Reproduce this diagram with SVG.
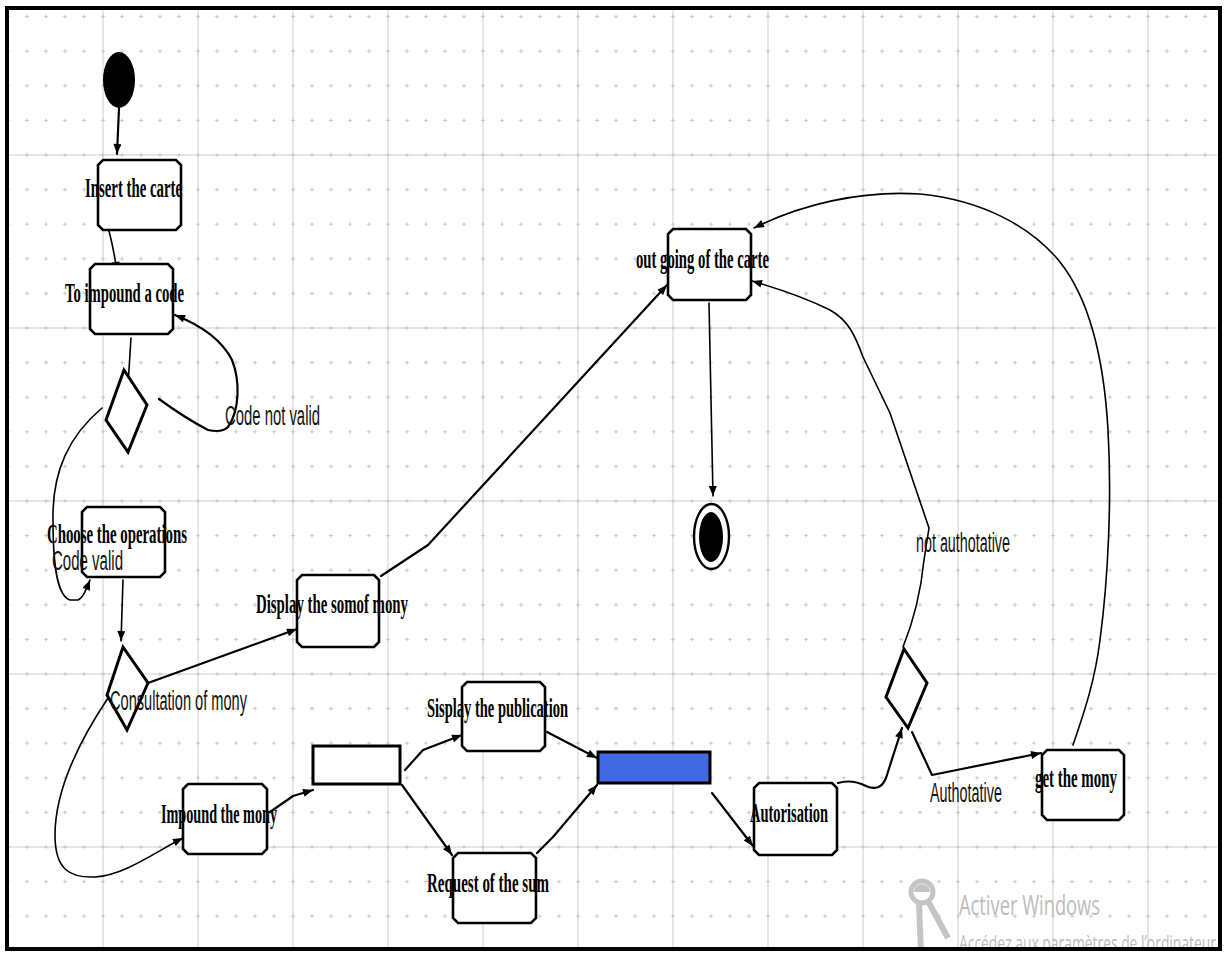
<svg xmlns="http://www.w3.org/2000/svg" width="1225" height="954" viewBox="0 0 1225 954">
  <style>
    .box { fill: #ffffff; stroke: #000000; stroke-width: 2.6; stroke-linejoin: miter; }
    .dia { fill: #ffffff; stroke: #000000; stroke-width: 3; stroke-linejoin: miter; }
    .bar { stroke: #000000; stroke-width: 3; }
    .edge { fill: none; stroke: #000000; stroke-width: 2.2; stroke-linejoin: round; stroke-linecap: round; marker-end: url(#arr); }
    .thin { stroke-width: 1.6; }
    .major { stroke: #e6e6e6; stroke-width: 2; }
    .n { font-family: "Liberation Serif", "Times New Roman", serif; font-weight: bold; font-size: 15px; fill: #000000; }
    .lbl { font-family: "Liberation Sans", Arial, sans-serif; font-size: 15px; fill: #111111; }
    .wm { font-family: "Open Sans", "Liberation Sans", sans-serif; fill: #bcbcbc; }
  </style>
  <defs>
    <marker id="arr" viewBox="0 0 10 8" refX="10" refY="4" markerWidth="11" markerHeight="8" markerUnits="userSpaceOnUse" orient="auto">
      <path d="M0,0 L10,4 L0,8 z" fill="#000000"/>
    </marker>
    <pattern id="dots" patternUnits="userSpaceOnUse" x="-1.5" y="-0.7" width="19" height="34.6">
      <path d="M7.5,17.3 h4 M9.5,15.3 v4" stroke="#c4c4c4" stroke-width="1" fill="none"/>
    </pattern>
    <clipPath id="inside">
      <rect x="9" y="10" width="1208" height="937"/>
    </clipPath>
  </defs>

  <!-- canvas and grid -->
  <rect x="0" y="0" width="1225" height="954" fill="#ffffff"/>
  <g id="grid" clip-path="url(#inside)">
    <g class="major">
      <line x1="103" y1="0" x2="103" y2="954"/>
      <line x1="198" y1="0" x2="198" y2="954"/>
      <line x1="293" y1="0" x2="293" y2="954"/>
      <line x1="388" y1="0" x2="388" y2="954"/>
      <line x1="483" y1="0" x2="483" y2="954"/>
      <line x1="578" y1="0" x2="578" y2="954"/>
      <line x1="673" y1="0" x2="673" y2="954"/>
      <line x1="768" y1="0" x2="768" y2="954"/>
      <line x1="863" y1="0" x2="863" y2="954"/>
      <line x1="958" y1="0" x2="958" y2="954"/>
      <line x1="1053" y1="0" x2="1053" y2="954"/>
      <line x1="1148" y1="0" x2="1148" y2="954"/>
      <line x1="0" y1="155" x2="1225" y2="155"/>
      <line x1="0" y1="328" x2="1225" y2="328"/>
      <line x1="0" y1="501" x2="1225" y2="501"/>
      <line x1="0" y1="674" x2="1225" y2="674"/>
      <line x1="0" y1="847" x2="1225" y2="847"/>
    </g>
    <rect x="0" y="0" width="1225" height="954" fill="url(#dots)"/>
  </g>

  <!-- connectors -->
  <g id="connectors">
    <path class="edge" d="M119,108 L117,154"/>
    <path class="edge thin" d="M109,231 Q114,250 117,272"/>
    <path class="edge thin" d="M131,338 L127,401"/>
    <path class="edge" d="M159,399 Q185,418 208,430 Q222,433 228,427 C240,410 240,380 232,360 C222,340 200,325 175,315"/>
    <path class="edge thin" d="M102,408 C70,435 52,470 53,520 C53,570 58,596 70,600 L78,600 C83,598 86,590 90,580"/>
    <path class="edge thin" d="M123,580 L121,641"/>
    <path class="edge" d="M148,683 L297,629"/>
    <path class="edge thin" d="M108,698 C80,740 55,790 55,835 C55,870 70,878 95,877 C125,875 155,852 183,838"/>
    <path class="edge" d="M270,812 L293,796 L313,790"/>
    <path class="edge" d="M405,770 L423,750 L462,735"/>
    <path class="edge" d="M402,785 L452,855"/>
    <path class="edge" d="M547,732 L597,758"/>
    <path class="edge" d="M537,853 L553,837 L597,785"/>
    <path class="edge" d="M712,793 L753,846"/>
    <path class="edge" d="M838,783 C848,780 858,782 866,786 C875,790 882,788 886,778 L902,728"/>
    <path class="edge" d="M912,732 L932,775 L1041,753"/>
    <path class="edge" d="M381,576 L428,545 L667,285"/>
    <path class="edge thin" d="M709,303 L713,496"/>
    <path class="edge thin" d="M903,647 C912,625 920,600 924,560 L929,528 L890,413 L863,357 C855,335 848,320 830,310 C810,300 790,292 752,281"/>
    <path class="edge thin" d="M1073,745 C1085,710 1095,680 1100,640 C1108,580 1112,500 1108,430 C1104,360 1090,300 1060,262 C1030,225 980,200 920,194 C860,190 800,205 754,228"/>
  </g>

  <!-- start and end -->
  <g id="start">
    <ellipse cx="119" cy="80" rx="16" ry="28" fill="#000000"/>
  </g>
  <g id="end">
    <ellipse cx="711.5" cy="536.5" rx="17.5" ry="32.5" fill="#ffffff" stroke="#000000" stroke-width="2.4"/>
    <ellipse cx="711" cy="537" rx="12" ry="25" fill="#000000"/>
  </g>

  <!-- activities -->
  <g id="insert-carte">
    <path class="box" d="M103,160 H176 L181,165 V225 L176,230 H103 L98,225 V165 Z"/>
    <text class="n" transform="translate(85,197) scale(1,1.8)" textLength="97" lengthAdjust="spacingAndGlyphs">Insert the carte</text>
  </g>
  <g id="impound-code">
    <path class="box" d="M95,264 H168 L173,269 V329 L168,334 H95 L90,329 V269 Z"/>
    <text class="n" transform="translate(65,302) scale(1,1.8)" textLength="119" lengthAdjust="spacingAndGlyphs">To impound a code</text>
  </g>
  <g id="choose-operations">
    <path class="box" d="M87,507 H160 L165,512 V572 L160,577 H87 L82,572 V512 Z"/>
    <text class="n" transform="translate(47,543) scale(1,1.8)" textLength="140" lengthAdjust="spacingAndGlyphs">Choose the operations</text>
  </g>
  <g id="display-sum">
    <path class="box" d="M302,575 H374 L379,580 V642 L374,647 H302 L297,642 V580 Z"/>
    <text class="n" transform="translate(256,613) scale(1,1.8)" textLength="152" lengthAdjust="spacingAndGlyphs">Display the somof mony</text>
  </g>
  <g id="impound-money">
    <path class="box" d="M188,784 H262 L267,789 V849 L262,854 H188 L183,849 V789 Z"/>
    <text class="n" transform="translate(161,823) scale(1,1.8)" textLength="116" lengthAdjust="spacingAndGlyphs">Impound the mony</text>
  </g>
  <g id="display-publication">
    <path class="box" d="M467,682 H540 L545,687 V746 L540,751 H467 L462,746 V687 Z"/>
    <text class="n" transform="translate(427,717) scale(1,1.8)" textLength="141" lengthAdjust="spacingAndGlyphs">Sisplay the publication</text>
  </g>
  <g id="request-sum">
    <path class="box" d="M458,853 H531 L536,858 V918 L531,923 H458 L453,918 V858 Z"/>
    <text class="n" transform="translate(427,892) scale(1,1.8)" textLength="122" lengthAdjust="spacingAndGlyphs">Request of the sum</text>
  </g>
  <g id="autorisation">
    <path class="box" d="M759,783 H832 L837,788 V850 L832,855 H759 L754,850 V788 Z"/>
    <text class="n" transform="translate(750,822) scale(1,1.8)" textLength="78" lengthAdjust="spacingAndGlyphs">Autorisation</text>
  </g>
  <g id="get-money">
    <path class="box" d="M1047,750 H1119 L1124,755 V815 L1119,820 H1047 L1042,815 V755 Z"/>
    <text class="n" transform="translate(1035,787) scale(1,1.8)" textLength="82" lengthAdjust="spacingAndGlyphs">get the mony</text>
  </g>
  <g id="card-out">
    <path class="box" d="M673,229 H746 L751,234 V295 L746,300 H673 L668,295 V234 Z"/>
    <text class="n" transform="translate(636,268) scale(1,1.8)" textLength="133" lengthAdjust="spacingAndGlyphs">out going of the carte</text>
  </g>

  <!-- decisions -->
  <g id="check-code">
    <polygon class="dia" points="124,370 147,405 128,452 106,420"/>
  </g>
  <g id="choose-branch">
    <polygon class="dia" points="123,647 148,683 127,730 107,695"/>
  </g>
  <g id="check-authority">
    <polygon class="dia" points="904,649 927,683 908,728 886,697"/>
  </g>

  <!-- fork and join bars -->
  <g id="fork">
    <rect class="bar" x="313" y="746" width="87" height="38" fill="#ffffff"/>
  </g>
  <g id="join">
    <rect class="bar" x="598" y="752" width="112" height="31" fill="#4169e1"/>
  </g>

  <!-- guard labels -->
  <g id="guards">
    <text class="lbl" transform="translate(225,425) scale(1,1.8)" textLength="95" lengthAdjust="spacingAndGlyphs">Code not valid</text>
    <text class="lbl" transform="translate(52,570) scale(1,1.8)" textLength="71" lengthAdjust="spacingAndGlyphs">Code valid</text>
    <text class="lbl" transform="translate(110,710) scale(1,1.8)" textLength="137" lengthAdjust="spacingAndGlyphs">Consultation of mony</text>
    <text class="lbl" transform="translate(930,802) scale(1,1.8)" textLength="72" lengthAdjust="spacingAndGlyphs">Authotative</text>
    <text class="lbl" transform="translate(916,552) scale(1,1.8)" textLength="94" lengthAdjust="spacingAndGlyphs">not authotative</text>
  </g>

  <!-- system watermark -->
  <g id="watermark" clip-path="url(#inside)">
    <circle cx="922" cy="892" r="11" fill="none" stroke="#c4c4c4" stroke-width="5"/>
    <path d="M914,892 A8,8 0 0 1 930,892 Z" fill="#c4c4c4"/>
    <path d="M919,903 L921,954" stroke="#c4c4c4" stroke-width="6" fill="none"/>
    <path d="M929,903 L948,938" stroke="#c4c4c4" stroke-width="6" fill="none"/>
    <text class="wm" font-size="15" transform="translate(959,915) scale(1,1.8)" textLength="141" lengthAdjust="spacingAndGlyphs">Activer Windows</text>
    <text class="wm" font-size="12.5" transform="translate(959,951) scale(1,1.8)" textLength="257" lengthAdjust="spacingAndGlyphs">Accédez aux paramètres de l’ordinateur</text>
  </g>

  <!-- outer frame -->
  <rect x="7" y="8" width="1213" height="941" fill="none" stroke="#000000" stroke-width="4"/>
</svg>
